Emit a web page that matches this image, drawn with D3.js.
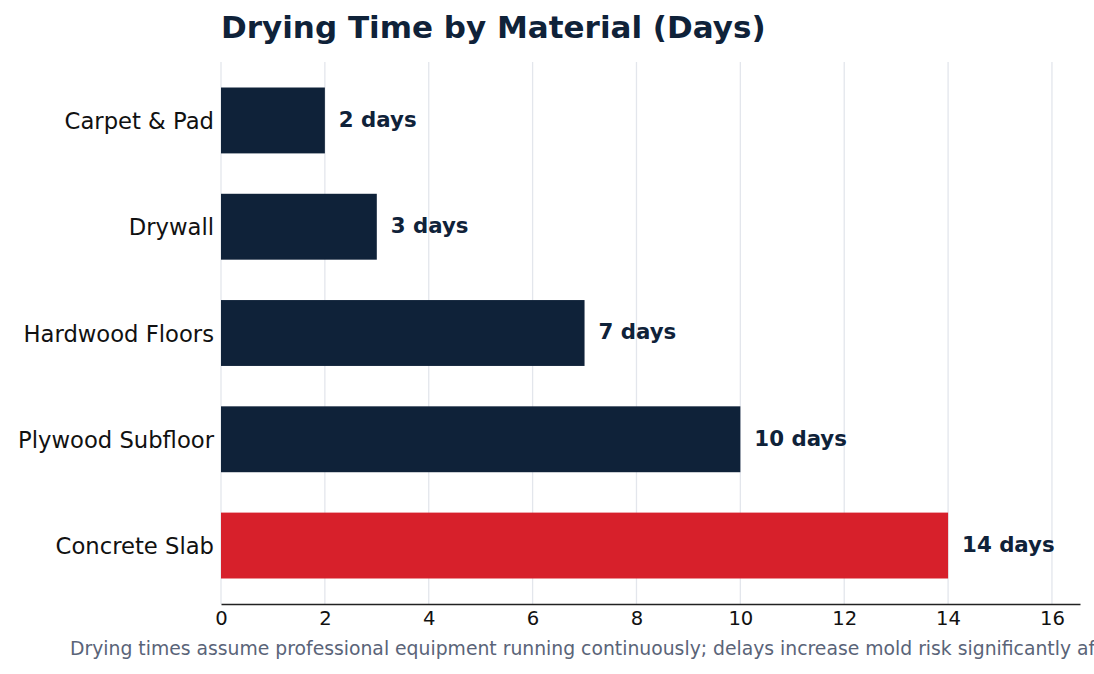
<!DOCTYPE html>
<html><head><meta charset="utf-8">
<script src="https://cdn.jsdelivr.net/npm/d3@7"></script>
<style>body{margin:0;background:#fff;} svg{display:block;font-family:"DejaVu Sans",sans-serif;}</style>
</head><body>
<svg id="chart" width="1094" height="674"></svg>
<script>
const categories = ["Carpet & Pad","Drywall","Hardwood Floors","Plywood Subfloor","Concrete Slab"];
const days = [2,3,7,10,14];
const barColors = ["#0f2239","#0f2239","#0f2239","#0f2239","#d7202b"];
const xTicks = [0,2,4,6,8,10,12,14,16];
const title = "Drying Time by Material (Days)";
const footnote = "Drying times assume professional equipment running continuously; delays increase mold risk significantly after 48 hours.";

(function(){
const svg = d3.select("#chart");
const mLeft = 221, mRight = 1080, mTop = 62, mBottom = 604;
const x = d3.scaleLinear().domain([0, 16.54]).range([mLeft, mRight]);
const y = d3.scaleBand().domain(categories).range([mTop, mBottom]).paddingInner(0.38).paddingOuter(0.24);

// grid
svg.append("g").selectAll("line").data(xTicks).join("line")
  .attr("x1", d=>x(d)).attr("x2", d=>x(d)).attr("y1", mTop).attr("y2", mBottom)
  .attr("stroke", "#e3e6ec").attr("stroke-width", 1.3);

// bars
svg.append("g").selectAll("rect").data(categories).join("rect")
  .attr("x", x(0)).attr("y", d=>y(d)).attr("width", (d,i)=>x(days[i])-x(0))
  .attr("height", y.bandwidth()).attr("fill", (d,i)=>barColors[i]);

// value labels
svg.append("g").selectAll("text").data(categories).join("text")
  .attr("x", (d,i)=>x(days[i])+14).attr("y", d=>y(d)+y.bandwidth()/2)
  .attr("dy", "0.3em")
  .attr("font-size", 21.3).attr("font-weight", "bold").attr("fill", "#0f2239")
  .text((d,i)=>days[i] + " days");

// y labels
svg.append("g").selectAll("text").data(categories).join("text")
  .attr("x", mLeft - 7).attr("y", d=>y(d)+y.bandwidth()/2)
  .attr("dy", "0.38em").attr("text-anchor", "end")
  .attr("font-size", 22.7).attr("fill", "#111")
  .text(d=>d);

// x axis
const xAxis = d3.axisBottom(x).tickValues(xTicks).tickSize(0).tickPadding(7).tickFormat(d3.format("d"));
const gx = svg.append("g").attr("transform", `translate(0,${mBottom})`).call(xAxis);
gx.select(".domain").attr("stroke", "#222").attr("stroke-width", 1.6);
gx.selectAll("text").attr("font-size", 19.6).attr("fill", "#111").attr("font-family", "DejaVu Sans");

// title
svg.append("text").attr("x", mLeft).attr("y", 38)
  .attr("font-size", 31).attr("font-weight", "bold").attr("fill", "#0f2239")
  .text(title);

// footnote
svg.append("text").attr("x", 70).attr("y", 655)
  .attr("font-size", 18.8).attr("fill", "#5a6478")
  .text(footnote);
})();
</script>
</body></html>
